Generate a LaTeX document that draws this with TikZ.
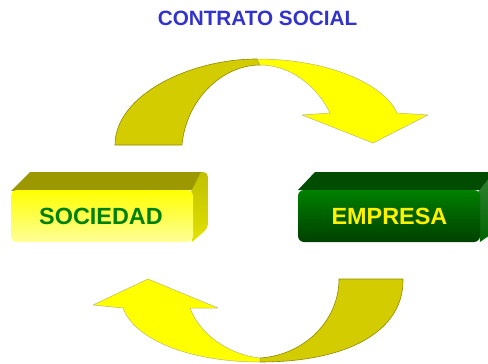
\documentclass[tikz,border=0pt]{standalone}
\usepackage{fontspec}
\setmainfont{Liberation Sans}
\definecolor{arrdark}{HTML}{D2CC00}
\definecolor{arrbright}{HTML}{FFFF00}
\definecolor{arredge}{HTML}{8F8A00}
\definecolor{titleblue}{HTML}{3333CC}
\definecolor{socgreen}{HTML}{008000}
\definecolor{soctop}{HTML}{9C9800}
\definecolor{socside}{HTML}{E2E200}
\definecolor{emptop}{HTML}{004C00}
\definecolor{empside}{HTML}{006400}
\tikzset{
  arrdarkpart/.style={fill=arrdark, draw=arredge, line width=0.6pt, line join=round},
  arrbrightpart/.style={fill=arrbright, draw=arredge!60, line width=0.5pt, line join=round},
  boxlabel/.style={font=\fontsize{23.4}{28}\selectfont\bfseries, anchor=base, inner sep=0pt},
}
\begin{document}
\begin{tikzpicture}[x=1pt,y=-1pt]
\useasboundingbox (0,0) rectangle (488,364);
% title
\node[anchor=base, inner sep=0pt, text=titleblue, font=\fontsize{20.7}{24}\selectfont\bfseries] (title) at (257.5,25) {CONTRATO SOCIAL};

% top arrow
\path[arrdarkpart] (115,145) .. controls (115,95) and (190,59) .. (257,59) -- (260,65) .. controls (222,65) and (186,100) .. (182,145) -- cycle;
\path[arrbrightpart] (257,59) .. controls (330,59) and (385,85) .. (397,113) -- (428,115) -- (373,143) -- (302,115) -- (330,113) .. controls (318,88) and (292,65) .. (260,65) -- cycle;

% bottom arrow
\path[arrdarkpart] (403,279) .. controls (404,330) and (350,362) .. (260,362) -- (260,358) .. controls (305,355) and (339,320) .. (339,279) -- cycle;
\path[arrbrightpart] (260,362) .. controls (190,362) and (135,340) .. (123,308) -- (93,305) -- (148,279) -- (218,308) -- (190,308) .. controls (200,335) and (230,355) .. (260,358) -- cycle;

% SOCIEDAD box
\path[fill=soctop] (11,191) -- (30,172) -- (203,172) -- (192,190) -- cycle;
\path[top color=socside!85!black, bottom color=socside] (191,192) -- (201,172) [rounded corners=5pt] -- (208,172) -- (208,228) [sharp corners] -- (192,242) -- cycle;
\path[rounded corners=6pt, top color=arrbright, bottom color=arrbright!40!white] (11,190) rectangle (193,242);
\node[boxlabel, text=socgreen] (soc) at (101,224) {SOCIEDAD};

% EMPRESA box
\path[fill=emptop] (298,190) -- (315,172) -- (496,172) -- (480,190) -- cycle;
\path[top color=empside!80!white, bottom color=empside] (478,192) -- (494,172) -- (500,172) -- (500,228) -- (480,242) -- cycle;
\path[rounded corners=6pt, top color=socgreen, bottom color=socgreen!50!black] (298,190) rectangle (480,242);
\node[boxlabel, text=yellow] (emp) at (389.5,224) {EMPRESA};
\end{tikzpicture}
\end{document}
